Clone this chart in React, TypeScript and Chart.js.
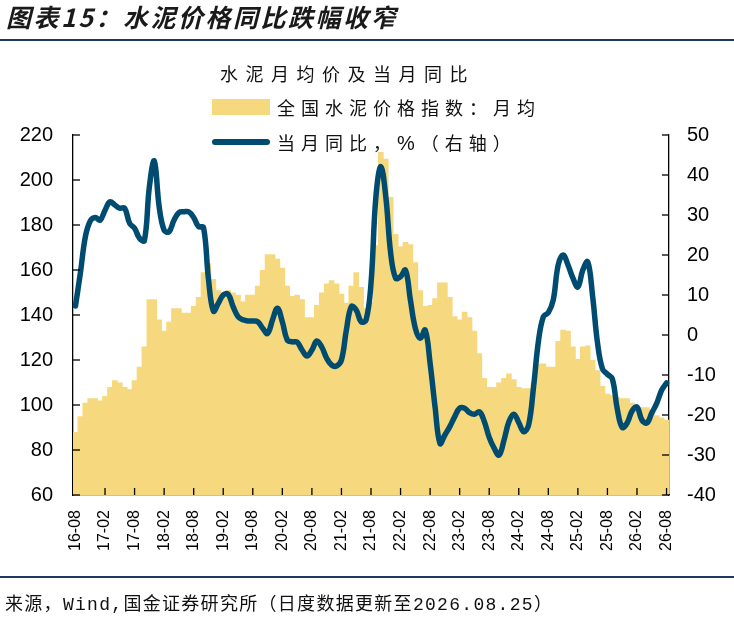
import React, { useEffect, useRef } from "react";
import { Chart, registerables } from "chart.js";

Chart.register(...registerables);

// Monthly categories 2016-08 .. 2026-08
const startYear = 2016;
const startMonth = 8;
const monthCount = 121;
const categories: string[] = [];
for (let k = 0; k < monthCount; k++) {
  const m = startMonth - 1 + k;
  const yy = (startYear + Math.floor(m / 12)) % 100;
  const mm = (m % 12) + 1;
  categories.push(`${String(yy).padStart(2, "0")}-${String(mm).padStart(2, "0")}`);
}

// 全国水泥价格指数：月均 (left axis)
const priceIndex: number[] = [
  88, 95, 101, 103, 103, 102, 104, 108, 111, 110, 108, 107,
  111, 117, 126, 147, 147, 138, 133, 137, 143, 143, 141, 141,
  144, 148, 159, 163, 156, 151, 150, 151, 150, 149, 146, 149,
  149, 153, 160, 167, 167, 165, 161, 153, 148.5, 149, 147, 139,
  139, 144.5, 150, 154, 155.5, 154, 149.5, 145.5, 153, 159, 152.5, 143,
  146, 171, 212.5, 209.5, 192.5, 176, 170.5, 172.5, 171.5, 163.5, 151, 144,
  144.5, 147.5, 154.5, 154.5, 148, 139.5, 138, 141.5, 139, 133, 123, 112,
  108, 108, 110, 112, 114, 111.5, 108, 107.5, 107.5, 110, 118.5, 118.5,
  117, 117, 128.5, 133.5, 133, 126, 120.5, 126, 126.5, 120, 115.5, 108.5,
  105, 104.5, 103.5, 103, 103, 101, 99, 99, 99, 98, 95.5, 94.5,
  93.5,
];

// 当月同比，% (right axis)
const yoyPct: number[] = [
  7.25, 15.5, 24.5, 28.5, 29.4, 28.7, 31.2, 33.3, 32.5, 31.7, 31.7, 27.9,
  26.7, 24.2, 23.6, 37, 43.5, 32, 26.2, 25.8, 28.7, 30.6, 30.8, 30.8,
  29.4, 27.1, 26.9, 14, 6, 7.9, 10, 10.2, 7.1, 4.6, 3.8, 3.5,
  3.5, 3.3, 1.7, 0.4, 3.75, 6.7, 3.3, -1.25, -1.7, -1.8, -3.75, -5.25,
  -3.75, -1.5, -3, -5.8, -7.5, -7.75, -6.25, 1.25, 7.1, 6.25, 3.3, 3.75,
  12.9, 34.6, 42.1, 34.6, 20.4, 14.2, 14.6, 16.25, 8.75, 1.7, -0.8, 1.25,
  -7.1, -17.9, -27.1, -25, -22.9, -20.4, -18.3, -18.3, -19.4, -19.8, -19.2, -21.6,
  -25.6, -28.3, -30, -26.3, -21.7, -19.8, -21.9, -24.2, -22.5, -13, -1.5, 4.6,
  5.6, 8.75, 17.5, 20, 17.5, 14.2, 12, 16.25, 18.3, 9.6, -2.1, -8.5,
  -9.8, -11, -18.5, -23.1, -22, -19, -18, -21.25, -22, -19.5, -17.1, -13.8,
  -12,
];

const leftTicks = { min: 60, max: 220, step: 20 };
const rightTicks = { min: -40, max: 50, step: 10 };
const labelEvery = 6;

const BAR_COLOR = "#F6D97F";
const LINE_COLOR = "#004C70";
const W = 734;
const H = 619;
const AREA = { left: 73, right: 669, top: 135, bottom: 495 };

const innerTicks = {
  id: "innerTicks",
  afterDraw(chart: any) {
    const ctx = chart.ctx;
    const { left, right, bottom } = chart.chartArea;
    ctx.save();
    ctx.strokeStyle = "#000";
    ctx.lineWidth = 1.3;
    const seg = (x1: number, y1: number, x2: number, y2: number) => {
      ctx.beginPath();
      ctx.moveTo(x1, y1);
      ctx.lineTo(x2, y2);
      ctx.stroke();
    };
    const y = chart.scales.y;
    y.ticks.forEach((_t: any, k: number) => {
      const p = y.getPixelForTick(k);
      seg(left, p, left + 7, p);
    });
    const y1 = chart.scales.y1;
    y1.ticks.forEach((_t: any, k: number) => {
      const p = y1.getPixelForTick(k);
      seg(right, p, right - 7, p);
    });
    const x = chart.scales.x;
    categories.forEach((_c, i) => {
      if (i > 0 && i % labelEvery === 0) {
        const p = x.getPixelForValue(i);
        seg(p, bottom, p, bottom - 7);
      }
    });
    ctx.restore();
  },
};

export default function App() {
  const ref = useRef<HTMLCanvasElement | null>(null);

  useEffect(() => {
    if (!ref.current) return;
    const chart = new Chart(ref.current, {
      type: "bar",
      data: {
        labels: categories,
        datasets: [
          {
            type: "line",
            label: "当月同比，%（右轴）",
            data: yoyPct,
            yAxisID: "y1",
            borderColor: LINE_COLOR,
            backgroundColor: LINE_COLOR,
            borderWidth: 5.5,
            pointRadius: 0,
            tension: 0.4,
            borderCapStyle: "round",
            borderJoinStyle: "round",
            order: 0,
          } as any,
          {
            type: "bar",
            label: "全国水泥价格指数：月均",
            data: priceIndex,
            yAxisID: "y",
            backgroundColor: BAR_COLOR,
            borderWidth: 0,
            barPercentage: 1.15,
            categoryPercentage: 1,
            order: 1,
          } as any,
        ],
      },
      options: {
        responsive: false,
        animation: false,
        events: [],
        layout: { padding: { top: AREA.top, left: 0, right: 0, bottom: 0 } },
        plugins: {
          legend: { display: false },
          title: { display: false },
          tooltip: { enabled: false },
        },
        scales: {
          x: {
            offset: true,
            grid: { display: false, drawTicks: false },
            border: { display: true, color: "#000", width: 1.3 },
            ticks: {
              autoSkip: false,
              maxRotation: 90,
              minRotation: 90,
              padding: 15,
              color: "#000",
              font: { family: "'Liberation Sans', Arial, sans-serif", size: 16 },
              callback: (_v: any, i: number) => (i % labelEvery === 0 ? categories[i] : ""),
            },
            afterFit: (s: any) => {
              s.height = H - AREA.bottom;
            },
          },
          y: {
            position: "left",
            min: leftTicks.min,
            max: leftTicks.max,
            grid: { display: false, drawTicks: false },
            border: { display: true, color: "#000", width: 1.3 },
            ticks: {
              stepSize: leftTicks.step,
              padding: 20,
              color: "#000",
              font: { family: "'Liberation Sans', Arial, sans-serif", size: 20 },
            },
            afterFit: (s: any) => {
              s.width = AREA.left;
            },
          },
          y1: {
            position: "right",
            min: rightTicks.min,
            max: rightTicks.max,
            grid: { display: false, drawTicks: false },
            border: { display: true, color: "#000", width: 1.3 },
            ticks: {
              stepSize: rightTicks.step,
              padding: 18,
              color: "#000",
              font: { family: "'Liberation Sans', Arial, sans-serif", size: 20 },
            },
            afterFit: (s: any) => {
              s.width = W - AREA.right;
            },
          },
        },
      } as any,
      plugins: [innerTicks],
    });
    return () => chart.destroy();
  }, []);

  const cjk = "'Noto Sans CJK SC', sans-serif";

  return (
    <div style={{ position: "absolute", left: 0, top: 0, width: W, height: H, background: "#fff", overflow: "hidden" }}>
      <canvas ref={ref} width={W} height={H} style={{ position: "absolute", left: 0, top: 0 }} />
      <div
        style={{
          position: "absolute",
          left: 6,
          top: 1,
          fontFamily: cjk,
          fontWeight: 700,
          fontStyle: "italic",
          fontSize: 25,
          lineHeight: "30px",
          letterSpacing: 2.5,
          color: "#1a1a1a",
          whiteSpace: "nowrap",
        }}
      >
        图表15：水泥价格同比跌幅收窄
      </div>
      <div style={{ position: "absolute", left: 0, top: 39, width: W, height: 2, background: "#1F3A5F" }} />
      <div
        style={{
          position: "absolute",
          left: 220,
          top: 62,
          fontFamily: cjk,
          fontSize: 18,
          lineHeight: "22px",
          letterSpacing: 7.5,
          color: "#111",
          whiteSpace: "nowrap",
        }}
      >
        水泥月均价及当月同比
      </div>
      <div style={{ position: "absolute", left: 212, top: 99, width: 58, height: 16, background: BAR_COLOR }} />
      <div
        style={{
          position: "absolute",
          left: 277,
          top: 96,
          fontFamily: cjk,
          fontSize: 18,
          lineHeight: "22px",
          letterSpacing: 6,
          color: "#111",
          whiteSpace: "nowrap",
        }}
      >
        全国水泥价格指数：月均
      </div>
      <div
        style={{ position: "absolute", left: 212, top: 139, width: 58, height: 6, borderRadius: 3, background: LINE_COLOR }}
      />
      <div
        style={{
          position: "absolute",
          left: 277,
          top: 131,
          fontFamily: cjk,
          fontSize: 18,
          lineHeight: "22px",
          letterSpacing: 6,
          color: "#111",
          whiteSpace: "nowrap",
        }}
      >
        当月同比，<span style={{ fontFamily: "'Liberation Sans', Arial, sans-serif", fontSize: 20 }}>%</span>（右轴）
      </div>
      <div style={{ position: "absolute", left: 0, top: 576, width: W, height: 2, background: "#1F3A5F" }} />
      <div
        style={{
          position: "absolute",
          left: 5,
          top: 593,
          fontFamily: "'Liberation Mono', 'Noto Sans CJK SC', monospace",
          fontSize: 18,
          lineHeight: "24px",
          letterSpacing: 1.3,
          color: "#111",
          whiteSpace: "nowrap",
        }}
      >
        来源，Wind,国金证券研究所（日度数据更新至2026.08.25）
      </div>
    </div>
  );
}
